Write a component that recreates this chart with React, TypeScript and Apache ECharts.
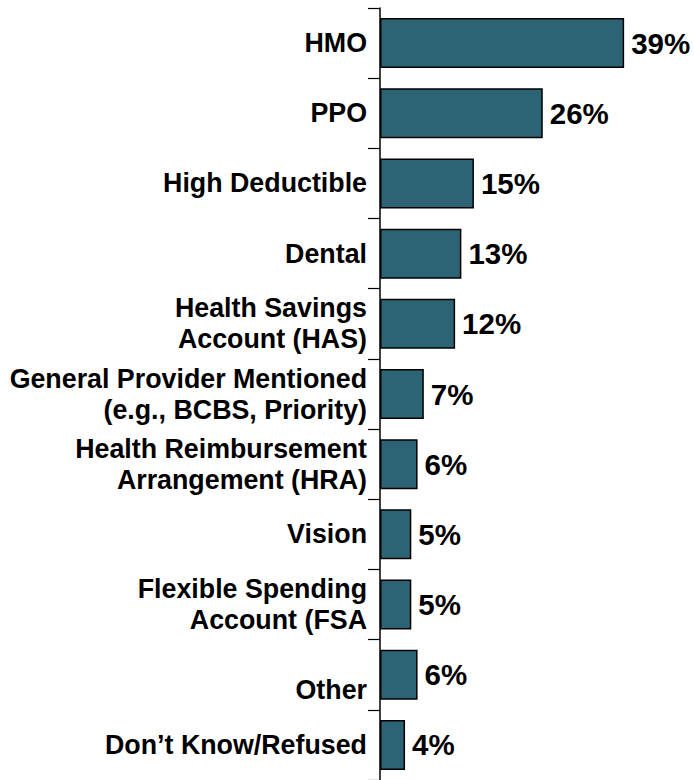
import React, { useEffect, useRef } from "react";
import * as echarts from "echarts";

const categories = [
  "HMO",
  "PPO",
  "High Deductible",
  "Dental",
  "Health Savings\nAccount (HAS)",
  "General Provider Mentioned\n(e.g., BCBS, Priority)",
  "Health Reimbursement\nArrangement (HRA)",
  "Vision",
  "Flexible Spending\nAccount (FSA",
  "Other",
  "Don\u2019t Know/Refused",
];
const values = [39, 26, 15, 13, 12, 7, 6, 5, 5, 6, 4];

export default function App() {
  const ref = useRef<HTMLDivElement>(null);
  useEffect(() => {
    if (!ref.current) return;
    const chart = echarts.init(ref.current, undefined, { renderer: "svg" });
    const font = "'Liberation Sans', Arial, sans-serif";
    chart.setOption({
      animation: false,
      backgroundColor: "#ffffff",
      grid: { left: 380, top: 8, width: 250.4, height: 774, containLabel: false },
      xAxis: {
        type: "value",
        min: 0,
        max: 40,
        show: false,
      },
      yAxis: {
        type: "category",
        inverse: true,
        data: categories,
        axisLine: { show: true, lineStyle: { color: "#000", width: 1.5 } },
        axisTick: { show: true, length: 12, lineStyle: { color: "#000", width: 1.2 } },
        axisLabel: {
          margin: 13,
          color: "#000",
          fontSize: 26.8,
          fontWeight: "bold",
          fontFamily: font,
          lineHeight: 31,
          align: "right",
          formatter: (v: string) => (v === "Other" ? "\n" + v : v),
        },
        splitLine: { show: false },
      },
      series: [
        {
          type: "bar",
          data: values,
          barWidth: 50,
          itemStyle: { color: "#2D6475", borderColor: "#000", borderWidth: 1.5 },
          label: {
            show: true,
            position: "right",
            distance: 7,
            formatter: "{c}%",
            color: "#000",
            fontSize: 29.5,
            fontWeight: "bold",
            fontFamily: font,
          },
        },
      ],
    });
    return () => chart.dispose();
  }, []);
  return (
    <div
      ref={ref}
      style={{ position: "fixed", left: 0, top: 0, width: 694, height: 780 }}
    />
  );
}
